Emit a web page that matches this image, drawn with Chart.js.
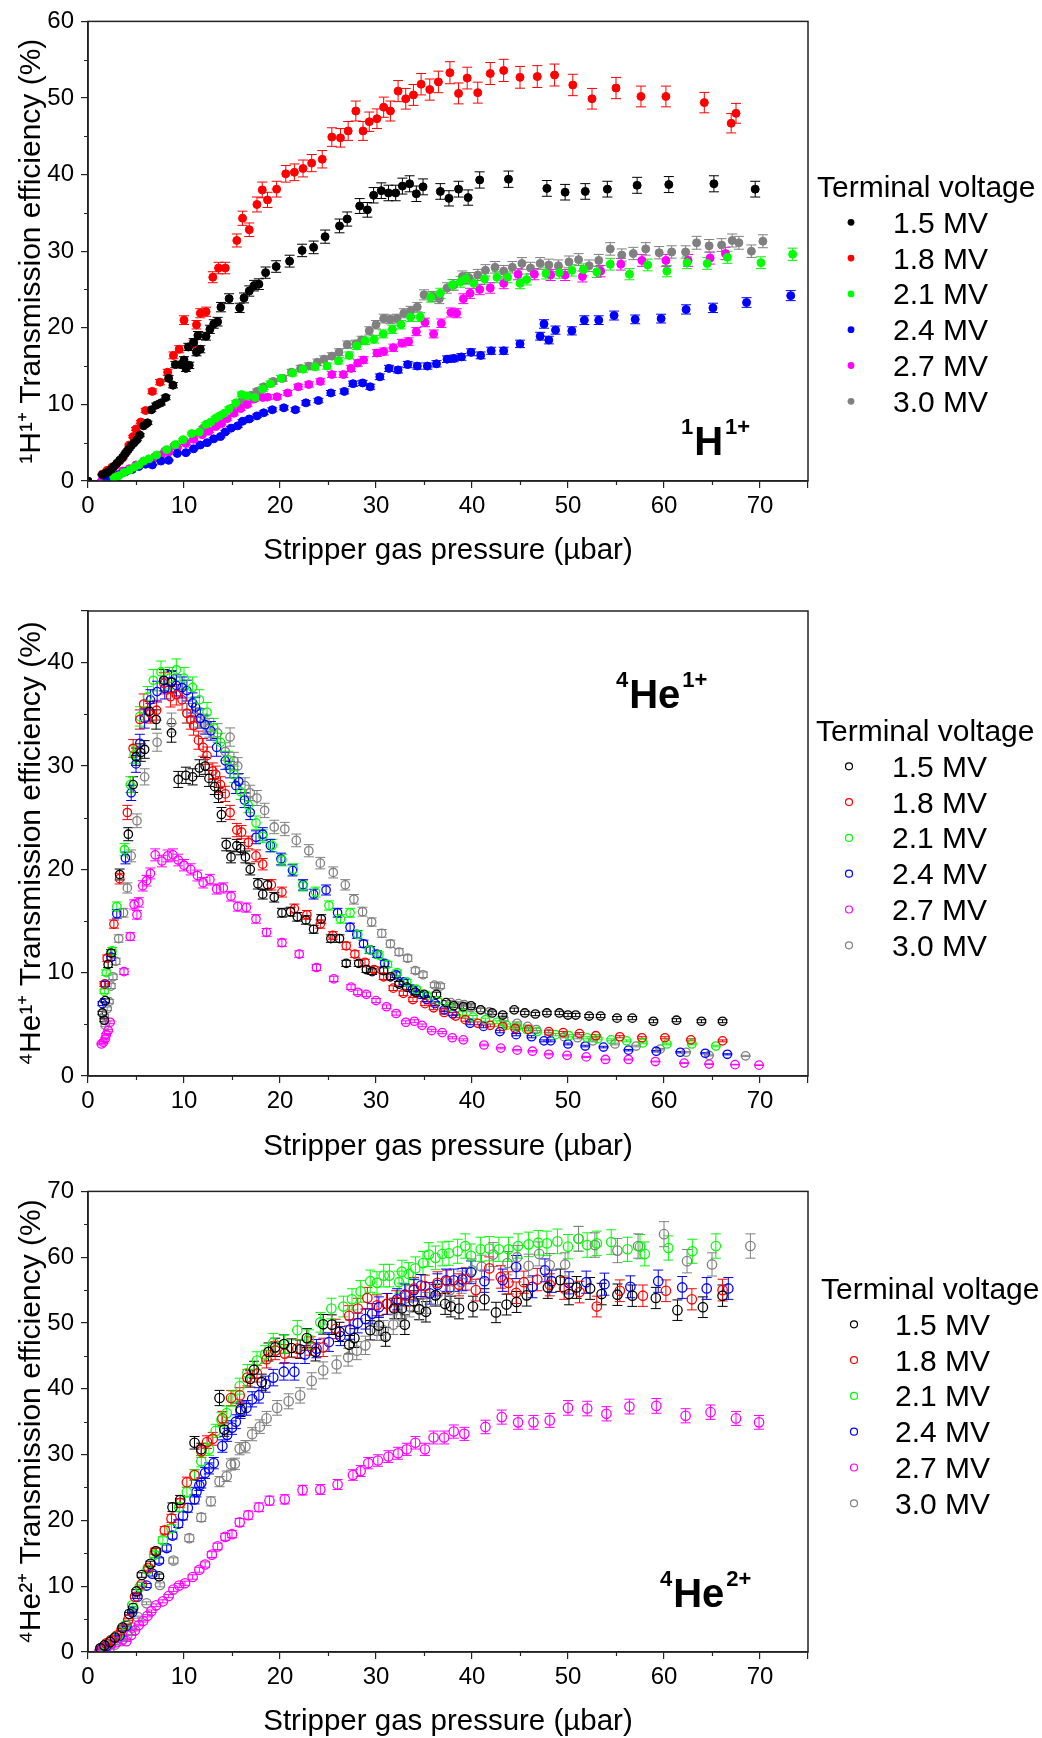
<!DOCTYPE html>
<html>
<head>
<meta charset="utf-8">
<title>Transmission efficiency</title>
<script src="https://cdn.jsdelivr.net/npm/chart.js@4.4.0/dist/chart.umd.min.js"></script>
<style>
  body { margin: 0; background: #ffffff; }
  canvas { position: absolute; left: 0; }
</style>
</head>
<body>
<canvas id="panelH1" width="1042" height="580" style="top:0px"></canvas>
<canvas id="panelHe1" width="1042" height="590" style="top:580px"></canvas>
<canvas id="panelHe2" width="1042" height="568" style="top:1170px"></canvas>
<script>
// Series: [presion (µbar), eficiencia (%)] por voltaje de terminal
var voltajes = ['1.5 MV', '1.8 MV', '2.1 MV', '2.4 MV', '2.7 MV', '3.0 MV'];
var colores = ['#000000', '#ff0000', '#00ff00', '#0000ff', '#ff00ff', '#808080'];
var presionMax = 75;
var eficienciaMax = [60, 45, 70];
var errorRelativo = [0.027, 0.027, 0.03];

// 1H 1+
var h1_15 = [[0,0],[1.5,0.8],[1.8,1.0],[2.1,1.2],[2.4,1.5],[2.7,1.9],[3.0,2.3],[3.3,2.7],[3.6,3.1],[3.9,3.6],[4.2,4.1],[4.5,4.6],[4.8,5.0],[5.1,5.4],[5.4,6.0],[5.8,7.2],[6.2,7.6],[6.6,9.3],[7.1,9.9],[7.6,10.2],[8.1,10.9],[8.4,13.4],[8.85,12.5],[9.1,15.2],[9.65,15.2],[10.0,15.8],[10.2,14.7],[10.45,17.5],[10.55,15.1],[11.0,18.1],[11.3,16.8],[11.45,19.0],[11.7,17.2],[12.3,18.9],[12.7,19.8],[13.1,20.5],[13.5,20.8],[13.85,22.7],[14.7,23.8],[15.8,22.6],[16.25,23.9],[16.8,24.8],[17.3,25.5],[17.8,25.7],[18.5,27.2],[19.6,28.0],[21.0,28.7],[22.3,30.1],[23.5,30.5],[24.7,31.9],[26.2,33.3],[27.0,34.2],[28.3,35.9],[29.1,35.4],[29.75,37.3],[30.55,37.9],[31.3,37.6],[32.05,37.6],[32.75,38.5],[33.5,38.8],[34.2,37.5],[34.9,38.4],[36.7,37.8],[37.6,36.9],[38.6,38.1],[39.6,37.0],[40.8,39.3],[43.8,39.4],[47.8,38.2],[49.7,37.7],[51.8,37.8],[54.1,38.1],[57.2,38.6],[60.5,38.7],[65.2,38.8],[69.5,38.1]];
var h1_18 = [[1.5,0.9],[2.0,1.4],[2.5,1.8],[2.9,2.1],[3.3,2.6],[3.6,3.0],[4.0,3.8],[4.3,4.7],[4.7,5.8],[5.0,6.8],[5.5,7.7],[6.0,9.2],[6.7,11.7],[7.5,12.9],[8.3,14.2],[8.9,16.4],[9.5,17.2],[10.0,21.0],[11.0,17.9],[11.3,20.4],[11.7,21.9],[12.3,22.1],[13.0,26.6],[13.6,27.8],[14.3,27.8],[15.5,31.4],[16.1,34.3],[16.8,32.8],[17.6,36.1],[18.15,38.0],[18.7,36.7],[19.65,38.1],[20.6,40.1],[21.5,40.3],[22.4,40.8],[23.3,41.5],[24.4,42.0],[25.4,44.9],[26.3,44.8],[27.1,45.7],[27.9,48.3],[28.65,45.7],[29.3,46.9],[30.1,47.3],[30.8,48.8],[31.5,48.3],[32.3,50.9],[33.1,49.9],[33.9,50.4],[34.7,51.8],[35.6,51.1],[36.5,52.1],[37.7,53.3],[38.6,50.6],[39.5,52.6],[40.6,50.7],[41.9,53.2],[43.3,53.6],[45.0,52.7],[46.8,52.8],[48.6,53.0],[50.5,51.7],[52.5,49.9],[55.0,51.3],[57.6,50.2],[60.2,50.2],[64.2,49.4],[67.0,46.7],[67.5,48.0]];
var h1_21 = [[2.7,0.5],[3.2,0.7],[3.75,1.1],[4.3,1.4],[4.8,1.8],[5.3,2.1],[5.8,2.6],[6.35,2.9],[7.15,3.4],[8.2,4.1],[9.1,4.75],[9.9,5.4],[10.8,6.2],[11.6,6.4],[12.3,7.4],[12.8,7.7],[13.3,8.2],[13.7,8.5],[14.2,8.85],[14.7,9.4],[15.4,10.2],[16.0,11.3],[16.6,11.1],[17.4,10.9],[18.2,12.0],[19.0,12.7],[20.1,13.4],[21.3,14.1],[22.4,14.6],[23.65,14.9],[24.9,15.0],[26.1,15.7],[27.2,16.4],[28.0,17.65],[28.85,18.3],[29.8,18.5],[30.75,19.2],[31.7,19.8],[32.6,20.4],[33.6,21.4],[34.6,21.4],[35.7,24.0],[36.7,24.5],[37.95,25.6],[38.8,26.0],[39.35,26.4],[40.2,25.8],[41.3,26.4],[42.6,26.6],[43.7,26.6],[45.0,25.8],[45.7,26.3],[47.7,27.1],[49.1,27.2],[50.4,27.5],[51.6,27.6],[53.0,27.3],[54.4,28.3],[56.4,27.0],[58.3,28.2],[60.3,27.4],[62.4,28.5],[64.5,28.4],[66.6,29.2],[70.1,28.5],[73.4,29.6]];
var h1_24 = [[2.0,0.2],[2.5,0.5],[3.2,0.8],[3.9,1.2],[4.6,1.5],[5.3,1.9],[6.0,2.2],[6.7,2.1],[7.6,2.6],[8.4,2.7],[9.3,3.6],[10.2,3.7],[11.0,4.2],[11.7,4.7],[12.4,5.0],[13.1,5.5],[13.8,5.8],[14.3,6.4],[14.9,6.9],[15.6,7.2],[16.1,7.8],[16.8,8.1],[17.6,8.5],[18.3,8.9],[19.2,9.3],[20.4,9.55],[21.6,9.3],[22.7,10.2],[24.0,10.5],[25.3,11.5],[26.7,11.7],[27.6,12.7],[28.6,12.8],[29.4,12.3],[30.4,13.6],[31.35,14.7],[32.3,14.5],[33.3,15.2],[34.3,15.0],[35.35,15.0],[36.3,15.3],[37.4,15.9],[38.1,16.0],[38.9,16.2],[39.9,16.8],[40.9,16.4],[42.0,17.0],[43.3,17.0],[45.0,17.9],[47.1,18.9],[47.5,20.5],[48.0,18.4],[48.7,19.7],[50.4,19.6],[51.7,21.0],[53.2,21.0],[54.8,21.6],[57.0,21.1],[59.7,21.2],[62.3,22.4],[65.1,22.6],[68.6,23.3],[73.2,24.2]];
var h1_27 = [[1.5,0.2],[2.0,0.5],[2.9,0.9],[3.6,1.3],[4.3,1.6],[5.0,2.1],[5.8,2.6],[6.7,2.9],[7.6,3.35],[8.4,3.8],[9.3,4.4],[10.2,4.9],[11.0,5.45],[11.9,6.05],[12.6,6.5],[13.3,7.1],[13.9,7.5],[14.5,8.15],[15.2,8.85],[15.9,9.45],[16.6,10.0],[17.3,10.7],[18.2,10.9],[18.7,10.95],[19.7,11.0],[20.8,11.5],[21.9,12.3],[23.0,12.6],[24.2,13.0],[25.4,13.9],[26.6,13.9],[27.4,14.7],[28.1,15.4],[28.7,15.8],[30.1,16.7],[30.8,16.9],[31.8,17.4],[32.7,18.0],[33.4,18.2],[34.2,19.5],[35.1,20.7],[36.0,19.2],[36.8,20.6],[37.8,22.0],[38.4,21.9],[39.1,23.8],[39.8,24.5],[40.8,25.0],[41.9,25.2],[43.3,25.8],[44.8,27.0],[46.5,27.0],[48.2,26.9],[49.7,26.9],[51.5,26.7],[53.4,27.4],[55.5,28.3],[57.7,28.8],[60.2,28.8],[62.5,28.8],[64.8,29.1],[66.4,29.7]];
var h1_30 = [[2.5,0.4],[3.0,0.7],[3.5,1.0],[4.0,1.3],[5.0,1.9],[6.0,2.5],[7.0,3.2],[8.0,3.9],[9.0,4.6],[10.0,5.3],[11.0,6.0],[12.0,6.9],[13.0,7.7],[14.0,8.6],[15.0,9.5],[16.0,10.4],[17.0,11.2],[17.6,11.7],[18.3,12.3],[19.3,13.0],[20.3,13.4],[21.2,14.2],[22.15,14.7],[23.0,15.0],[23.9,15.5],[24.6,15.9],[25.4,16.3],[26.15,16.8],[27.0,17.8],[27.9,17.9],[28.5,18.4],[29.3,19.6],[30.0,20.4],[30.8,21.2],[31.5,21.1],[32.2,21.2],[32.9,21.9],[33.6,22.2],[34.3,22.7],[35.0,24.3],[35.9,24.1],[36.6,23.8],[37.4,25.2],[38.1,25.6],[39.0,26.7],[39.7,26.5],[40.6,26.9],[41.4,27.5],[42.4,27.9],[43.3,27.4],[44.2,27.9],[45.2,28.4],[46.1,27.8],[47.1,28.4],[48.0,28.2],[49.0,28.1],[50.1,28.6],[51.1,28.9],[52.2,28.1],[53.2,28.8],[54.4,30.3],[55.6,29.5],[56.8,29.7],[58.1,30.3],[59.5,29.8],[60.8,29.9],[62.25,29.9],[63.4,31.1],[64.7,30.7],[66.0,30.8],[67.1,31.4],[67.8,31.1],[69.1,30.0],[70.3,31.3]];

// 4He 1+
var he1_15 = [[1.5,6.1],[1.7,5.4],[1.8,7.3],[2.1,10.8],[2.4,11.9],[3.3,19.5],[4.2,23.4],[4.7,28.2],[5.0,30.9],[5.5,31.3],[5.9,31.6],[6.4,35.3],[7.1,34.5],[7.9,38.3],[8.7,38.1],[8.7,33.2],[9.4,28.7],[10.2,29.1],[10.9,28.95],[11.6,29.8],[12.2,30.0],[12.6,28.8],[13.2,28.0],[13.6,27.2],[13.9,25.3],[14.4,22.4],[14.9,21.2],[15.5,22.3],[15.9,22.0],[16.4,21.2],[16.9,20.0],[17.7,18.6],[18.2,17.6],[18.7,18.5],[19.4,17.3],[20.2,15.8],[21.1,15.9],[21.8,15.4],[22.7,15.1],[23.5,14.2],[24.3,15.2],[25.3,13.3],[26.2,13.3],[26.9,10.9],[28.2,10.9],[29.0,10.3],[29.6,10.1],[30.8,10.2],[31.5,9.6],[32.4,8.9],[33.2,8.6],[34.1,8.1],[35.0,7.9],[36.3,7.9],[37.3,7.1],[38.1,6.8],[39.1,6.7],[39.9,6.8],[40.9,6.4],[42.1,6.1],[43.2,5.9],[44.4,6.4],[45.5,6.1],[46.6,6.0],[47.8,6.1],[49.1,6.1],[50.0,5.9],[50.8,5.9],[52.2,5.8],[53.4,5.8],[55.1,5.6],[56.7,5.6],[58.9,5.3],[61.3,5.4],[63.9,5.3],[66.1,5.3]];
var he1_18 = [[1.7,8.9],[2.0,11.4],[2.7,14.7],[3.3,19.1],[4.1,25.5],[4.7,31.7],[5.4,34.5],[5.8,36.0],[6.5,35.1],[7.15,35.4],[7.9,38.0],[8.6,36.7],[9.2,36.9],[9.8,36.4],[10.3,35.1],[10.7,34.5],[11.0,33.9],[11.5,32.5],[12.0,31.8],[12.4,31.0],[13.0,29.5],[13.3,29.2],[13.8,28.2],[14.3,27.3],[14.8,25.5],[15.5,23.8],[16.0,23.6],[16.7,22.6],[17.5,21.3],[18.2,20.5],[19.1,18.5],[20.2,17.8],[21.5,16.2],[22.8,15.6],[24.2,14.7],[25.5,13.6],[26.9,12.6],[27.8,11.8],[28.85,11.0],[29.8,10.3],[30.8,9.6],[31.8,8.5],[32.85,8.0],[33.85,7.4],[35.1,7.0],[36.0,6.6],[37.1,6.15],[38.3,5.8],[39.3,5.45],[40.6,5.1],[41.9,4.9],[43.2,4.8],[44.5,4.6],[45.9,4.5],[48.0,4.3],[49.5,4.2],[51.2,4.1],[52.9,3.9],[55.4,3.8],[57.7,3.7],[60.1,3.7],[62.8,3.5],[66.1,3.4]];
var he1_21 = [[1.7,8.2],[1.9,10.0],[2.5,12.1],[3.0,16.4],[3.8,21.9],[4.4,28.2],[4.8,31.1],[5.4,34.8],[6.2,36.7],[6.8,38.3],[7.6,39.1],[8.5,38.5],[9.2,39.3],[10.0,38.5],[10.9,37.6],[11.6,36.4],[12.4,35.2],[13.1,33.7],[13.8,32.3],[14.6,30.6],[15.2,29.2],[15.9,27.5],[16.7,26.2],[17.5,24.5],[18.2,23.2],[19.2,22.3],[20.2,20.9],[21.4,20.0],[22.4,18.4],[23.7,17.8],[25.1,16.5],[26.3,15.2],[27.3,15.8],[28.1,13.7],[29.3,12.2],[30.3,11.7],[31.2,10.8],[32.2,10.0],[33.2,9.1],[34.2,8.4],[35.3,7.8],[36.4,7.3],[37.6,6.7],[39.0,6.05],[40.1,5.7],[41.4,5.45],[42.6,5.2],[43.6,4.9],[44.7,4.75],[45.7,4.5],[46.8,4.3],[48.7,4.0],[50.1,3.9],[52.0,3.7],[53.1,3.6],[54.5,3.5],[56.1,3.4],[57.8,3.2],[60.3,3.1],[62.9,3.1],[65.4,2.9]];
var he1_24 = [[1.5,7.0],[1.8,8.9],[2.4,11.5],[3.0,15.7],[3.9,21.1],[4.5,27.4],[5.0,30.2],[5.4,32.2],[5.9,34.6],[6.5,36.4],[7.2,37.2],[8.0,37.5],[8.7,38.2],[9.2,37.8],[9.8,37.6],[10.3,37.3],[10.9,36.1],[11.2,35.7],[11.7,34.6],[12.2,34.0],[12.8,33.4],[13.4,31.8],[14.3,30.5],[14.8,29.65],[15.4,28.1],[15.7,28.5],[16.3,26.7],[16.9,25.5],[17.5,23.1],[18.2,23.4],[19.0,22.3],[20.1,21.0],[21.3,19.9],[22.4,18.5],[23.5,17.6],[24.8,18.0],[26.0,15.8],[27.3,14.4],[28.0,13.7],[28.7,12.8],[29.4,12.2],[30.1,11.8],[30.9,10.9],[32.1,9.8],[32.9,9.1],[33.8,8.4],[34.6,7.9],[35.3,7.4],[36.15,7.0],[37.1,6.4],[38.0,6.0],[39.8,5.1],[41.2,4.8],[42.9,4.3],[44.6,4.0],[46.2,3.8],[47.5,3.4],[48.2,3.4],[50.0,3.1],[51.8,2.9],[53.7,2.8],[56.3,2.5],[59.2,2.4],[61.7,2.3],[64.3,2.2],[66.6,2.1]];
var he1_27 = [[1.4,3.1],[1.6,3.25],[1.8,3.6],[1.9,4.0],[2.1,4.4],[2.3,5.2],[3.75,10.1],[4.4,13.5],[4.8,16.6],[5.1,15.6],[5.3,16.8],[5.7,18.4],[6.1,18.9],[6.5,19.6],[7.0,21.4],[7.7,20.8],[8.3,21.3],[8.85,21.4],[9.4,20.9],[10.0,20.4],[10.7,20.0],[11.4,19.4],[12.0,18.7],[12.7,19.0],[13.4,18.1],[14.1,18.2],[14.9,17.4],[15.6,16.4],[16.5,16.3],[17.5,15.2],[18.6,13.9],[20.2,12.9],[22.0,11.8],[23.8,10.5],[25.6,9.4],[27.4,8.6],[28.1,8.1],[29.0,7.9],[30.0,7.3],[31.1,6.7],[32.1,6.05],[33.1,5.2],[34.0,5.3],[34.8,4.9],[35.8,4.4],[36.9,4.2],[37.95,3.7],[39.1,3.5],[41.25,3.0],[43.0,2.7],[44.7,2.5],[46.3,2.4],[48.0,2.1],[49.9,2.0],[51.9,1.85],[53.9,1.6],[56.3,1.6],[59.1,1.4],[62.1,1.25],[64.7,1.15],[67.4,1.1],[69.9,1.05]];
var he1_30 = [[1.7,5.8],[1.8,4.9],[2.0,6.5],[2.2,7.2],[2.4,8.7],[2.6,9.6],[2.9,11.1],[3.2,13.3],[3.7,15.8],[4.1,18.2],[4.5,21.3],[5.1,24.7],[5.9,28.95],[7.2,32.3],[8.7,34.2],[10.3,35.1],[11.4,34.7],[12.0,34.1],[12.6,33.7],[13.5,33.2],[14.3,31.4],[14.8,32.8],[15.2,30.5],[15.6,30.0],[16.35,28.1],[16.9,27.4],[17.6,26.9],[18.4,25.7],[19.4,24.1],[20.5,23.9],[21.7,22.8],[23.0,21.8],[24.2,20.6],[25.55,19.7],[26.8,18.5],[27.7,17.1],[28.6,15.9],[29.55,14.9],[30.6,13.8],[31.5,12.8],[32.4,12.0],[33.3,11.4],[34.1,10.2],[34.9,9.8],[36.1,8.8],[36.7,8.7],[37.8,7.1],[38.6,7.0],[39.2,6.9],[39.9,6.6],[40.9,6.4],[41.8,6.2],[43.3,5.5],[44.7,5.1],[45.8,4.8],[46.7,4.5],[48.0,4.1],[49.6,3.8],[51.0,3.7],[52.6,3.4],[54.9,3.1],[57.1,2.9],[59.6,2.6],[62.3,2.3],[64.7,2.0],[68.5,1.95]];

// 4He 2+
var he2_15 = [[1.3,0.55],[1.7,1.0],[2.3,1.5],[2.8,2.2],[3.6,3.7],[4.3,5.8],[4.7,6.7],[5.05,9.2],[5.6,11.7],[6.5,13.4],[7.1,15.3],[7.4,11.5],[8.8,22.0],[9.6,23.1],[11.1,31.8],[11.8,30.8],[13.7,38.6],[14.2,33.8],[15.9,36.9],[16.9,41.5],[17.3,42.9],[18.1,41.0],[18.8,45.6],[19.5,46.3],[20.4,46.8],[21.2,46.2],[22.1,46.0],[22.8,47.7],[23.7,45.6],[24.5,49.8],[25.4,49.75],[26.2,48.65],[27.2,46.7],[27.75,47.7],[29.4,48.9],[30.3,49.6],[31.0,47.9],[31.9,52.2],[32.7,52.2],[33.0,49.75],[33.9,53.3],[34.5,52.1],[35.2,51.7],[36.2,54.2],[37.2,52.9],[37.8,52.5],[38.65,52.2],[40.1,52.5],[41.3,53.6],[42.5,51.6],[43.6,52.8],[44.65,53.2],[45.7,54.2],[47.9,55.4],[49.2,56.5],[50.1,54.4],[50.9,55.4],[52.3,55.25],[53.5,54.4],[55.15,54.3],[56.7,54.15],[59.15,53.8],[61.4,51.95],[64.05,52.4],[66.1,54.15]];
var he2_18 = [[1.3,0.55],[1.9,1.3],[2.4,1.8],[3.0,2.5],[3.5,3.4],[4.2,4.9],[4.9,8.4],[5.6,10.3],[6.3,12.8],[7.0,15.3],[8.0,18.5],[8.7,20.3],[9.6,22.65],[10.3,25.8],[11.1,26.9],[11.8,30.5],[12.4,31.9],[13.0,32.4],[14.0,35.5],[14.9,38.6],[15.8,39.0],[16.6,41.7],[17.6,42.3],[18.6,44.5],[19.5,45.8],[20.5,45.35],[21.8,46.1],[23.2,46.5],[24.5,46.3],[25.8,49.1],[27.2,51.1],[28.1,52.2],[29.1,53.8],[30.1,52.7],[31.1,52.9],[32.1,53.3],[33.1,54.15],[33.95,55.25],[35.1,55.6],[36.4,56.1],[37.4,56.35],[38.65,55.8],[39.35,56.7],[40.4,55.0],[41.8,58.3],[43.0,57.0],[43.8,56.1],[44.6,54.6],[45.4,56.2],[46.8,56.6],[48.1,55.8],[49.6,55.25],[51.2,54.7],[53.0,52.5],[55.4,54.9],[57.8,54.15],[60.2,54.9],[62.9,53.6],[66.1,55.0]];
var he2_21 = [[1.3,0.55],[1.85,1.1],[2.4,1.8],[3.1,2.5],[3.9,4.1],[4.6,7.1],[5.4,9.9],[6.2,12.5],[6.9,14.8],[7.8,17.0],[8.7,18.8],[9.5,22.0],[10.3,24.3],[11.1,26.9],[11.8,29.0],[12.6,30.8],[13.3,33.6],[13.9,35.3],[14.45,36.3],[15.1,38.5],[15.8,40.4],[16.6,42.4],[17.6,44.3],[18.45,45.2],[19.3,47.0],[20.5,46.8],[21.8,48.9],[23.0,47.55],[24.2,50.1],[25.35,52.2],[26.6,52.5],[27.5,53.6],[28.4,54.8],[29.4,56.35],[30.1,56.1],[30.8,57.2],[31.4,57.2],[32.4,56.2],[32.7,57.8],[33.4,57.45],[34.1,58.3],[34.9,59.1],[35.5,60.4],[36.2,59.9],[36.9,60.5],[37.6,60.6],[38.5,60.9],[39.3,61.7],[39.9,60.2],[40.9,61.2],[41.8,61.3],[42.8,61.2],[43.8,61.2],[44.8,61.7],[45.9,61.95],[46.9,62.2],[47.8,62.1],[48.9,62.4],[50.0,61.6],[51.1,62.8],[52.0,61.85],[53.0,62.1],[54.5,62.3],[56.2,61.2],[57.5,61.6],[58.0,60.5],[60.45,61.4],[62.95,60.9],[65.4,61.7]];
var he2_24 = [[1.4,0.45],[1.9,0.9],[2.4,1.65],[3.3,2.5],[4.0,4.0],[4.6,6.05],[5.15,8.4],[6.1,10.1],[6.7,11.9],[7.4,13.9],[8.2,15.8],[8.8,17.7],[9.4,19.5],[9.9,20.7],[10.4,21.9],[11.1,23.2],[11.3,24.3],[11.6,25.3],[11.8,25.7],[12.2,27.2],[12.6,27.9],[13.1,28.7],[14.0,31.3],[14.5,33.0],[15.0,34.1],[15.4,35.0],[15.9,36.6],[16.5,37.1],[17.1,38.4],[17.8,39.0],[18.5,40.7],[19.3,41.7],[20.4,42.6],[21.5,42.6],[22.6,45.2],[23.8,46.1],[25.1,47.1],[26.3,48.0],[27.3,49.0],[28.1,50.0],[28.9,50.6],[29.6,51.4],[30.3,52.4],[31.2,52.9],[32.2,53.6],[33.0,54.3],[33.95,55.0],[34.7,55.7],[35.6,54.5],[36.4,55.8],[37.3,56.5],[38.1,56.5],[39.0,56.6],[39.9,57.7],[41.3,56.35],[43.2,56.5],[44.6,58.5],[46.3,55.5],[47.6,58.0],[48.3,56.35],[50.1,56.1],[51.9,56.2],[53.8,55.9],[56.5,55.5],[59.4,56.35],[61.9,55.4],[64.45,55.25],[66.7,55.25]];
var he2_27 = [[1.2,0.1],[1.6,0.45],[2.0,0.8],[2.4,1.2],[3.0,1.5],[3.6,1.9],[4.0,1.65],[4.5,2.6],[4.9,3.3],[5.3,4.1],[5.75,4.7],[6.2,5.5],[6.6,6.2],[7.1,7.1],[7.8,7.7],[8.4,8.5],[8.9,9.5],[9.5,10.1],[10.1,10.45],[10.9,11.4],[11.6,12.5],[12.2,13.3],[12.9,14.8],[13.5,16.05],[14.3,17.5],[15.0,17.9],[15.8,19.7],[16.7,20.8],[17.8,22.0],[18.9,23.0],[20.5,23.2],[22.35,24.6],[24.2,24.7],[26.0,25.45],[27.6,26.9],[28.4,27.5],[29.2,28.7],[30.2,29.1],[31.3,29.7],[32.3,30.2],[33.2,30.8],[34.1,31.8],[35.1,30.8],[36.0,32.6],[37.1,32.6],[38.1,33.5],[39.2,33.15],[41.4,34.2],[43.1,35.7],[44.8,34.9],[46.4,34.9],[48.1,35.2],[50.0,37.1],[52.0,37.0],[54.0,36.2],[56.4,37.3],[59.2,37.4],[62.25,35.9],[64.85,36.45],[67.5,35.5],[69.9,34.9]];
var he2_30 = [[1.2,0.15],[1.75,0.45],[2.3,0.7],[2.8,1.1],[3.5,1.65],[4.1,2.6],[4.6,3.7],[5.2,5.3],[6.1,7.4],[7.5,10.2],[8.9,13.9],[10.55,17.3],[11.8,20.45],[12.8,22.9],[13.7,25.9],[14.45,26.7],[14.9,28.5],[15.3,28.6],[15.8,30.9],[16.4,31.2],[17.1,33.1],[17.9,34.25],[18.6,35.5],[19.7,37.1],[20.9,38.1],[22.1,39.0],[23.3,41.2],[24.5,42.8],[25.9,43.7],[27.1,44.8],[28.0,45.8],[28.9,46.6],[30.1,48.8],[30.8,48.9],[31.8,49.75],[32.6,51.0],[33.5,52.5],[34.5,52.0],[35.3,53.05],[36.4,54.4],[37.7,55.0],[38.9,56.2],[40.0,58.0],[41.0,58.55],[42.2,60.4],[43.7,59.1],[44.7,60.0],[45.9,58.7],[47.0,60.5],[48.1,58.8],[49.7,58.9],[51.1,62.8],[52.8,61.85],[55.15,61.0],[57.3,61.7],[60.0,63.5],[62.4,59.4],[65.0,58.9],[69.0,61.7]];

var fuente = '"Liberation Sans", Arial, Helvetica, sans-serif';
Chart.defaults.font.family = fuente;
Chart.defaults.color = '#000';

function aPuntos(pares) {
    return pares.map(function(p){ return {x: p[0], y: p[1]}; });
}

// Barras de error verticales con tapas, a partir del error relativo del panel
var barrasError = {
    id: 'barrasError',
    beforeDatasetsDraw: function(chart, args, opts) {
        var ctx = chart.ctx, ejeY = chart.scales.y, a = chart.chartArea;
        ctx.save();
        ctx.beginPath();
        ctx.rect(a.left, a.top, a.right - a.left, a.bottom - a.top);
        ctx.clip();
        ctx.lineWidth = 1;
        chart.data.datasets.forEach(function(ds, i){
            var meta = chart.getDatasetMeta(i);
            ctx.strokeStyle = ds.borderColor;
            meta.data.forEach(function(pt, j){
                var v = ds.data[j].y;
                var e = v * opts.frac;
                var y1 = ejeY.getPixelForValue(v + e);
                var y2 = ejeY.getPixelForValue(v - e);
                ctx.beginPath();
                ctx.moveTo(pt.x, y1); ctx.lineTo(pt.x, y2);
                ctx.moveTo(pt.x - opts.tapa, y1); ctx.lineTo(pt.x + opts.tapa, y1);
                ctx.moveTo(pt.x - opts.tapa, y2); ctx.lineTo(pt.x + opts.tapa, y2);
                ctx.stroke();
            });
        });
        ctx.restore();
    }
};

// Marco completo y marcas menores a mitad de cada paso
var marco = {
    id: 'marco',
    afterDraw: function(chart) {
        var ctx = chart.ctx, a = chart.chartArea, sx = chart.scales.x, sy = chart.scales.y;
        ctx.save();
        ctx.strokeStyle = '#222';
        ctx.lineWidth = 1.5;
        ctx.strokeRect(a.left, a.top, a.right - a.left, a.bottom - a.top);
        ctx.lineWidth = 1.2;
        ctx.beginPath();
        for (var i = 0; i < sx.ticks.length - 1; i++) {
            if (sx.ticks[i+1].value - sx.ticks[i].value === 10) {
                var px = Math.round(sx.getPixelForValue(sx.ticks[i].value + 5)) + 0.5;
                ctx.moveTo(px, a.bottom); ctx.lineTo(px, a.bottom + 4);
            }
        }
        for (var k = 0; k < sy.ticks.length - 1; k++) {
            if (sy.ticks[k+1].value - sy.ticks[k].value === 10) {
                var py = Math.round(sy.getPixelForValue(sy.ticks[k].value + 5)) + 0.5;
                ctx.moveTo(a.left - 4, py); ctx.lineTo(a.left, py);
            }
        }
        ctx.stroke();
        ctx.restore();
    }
};

// Leyenda "Terminal voltage" y rótulo del ion
var rotulos = {
    id: 'rotulos',
    afterDraw: function(chart, args, o) {
        var ctx = chart.ctx;
        ctx.save();
        ctx.textBaseline = 'alphabetic';
        ctx.textAlign = 'left';
        ctx.font = '30px ' + fuente;
        ctx.fillStyle = '#000';
        ctx.fillText('Terminal voltage', o.x, o.y);
        chart.data.datasets.forEach(function(ds, i){
            var by = o.y + (i + 1) * o.paso;
            ctx.beginPath();
            ctx.arc(o.mx, by - 10.5, o.r, 0, Math.PI * 2);
            if (o.relleno) {
                ctx.fillStyle = ds.borderColor;
                ctx.fill();
            } else {
                ctx.strokeStyle = ds.borderColor;
                ctx.lineWidth = 1.2;
                ctx.stroke();
            }
            ctx.fillStyle = '#000';
            ctx.fillText(ds.label, o.tx, by);
        });
        var x = o.tagX;
        o.tag.forEach(function(p){
            ctx.font = p[1] ? 'bold 22px ' + fuente : 'bold 40px ' + fuente;
            ctx.fillText(p[0], x, p[1] ? o.tagY - 21 : o.tagY);
            x += ctx.measureText(p[0]).width + (p[1] ? 1 : 2);
        });
        ctx.restore();
    }
};

function crearPanel(idCanvas, series, c) {
    var lienzo = document.getElementById(idCanvas);
    var datasets = series.map(function(serie, i){
        return {
            label: voltajes[i],
            data: aPuntos(serie),
            borderColor: colores[i],
            backgroundColor: c.relleno ? colores[i] : 'rgba(0,0,0,0)',
            pointRadius: c.radio,
            pointHoverRadius: c.radio,
            pointBorderWidth: c.relleno ? 1 : 1.3,
            showLine: false
        };
    });
    var etiqueta = function(v){ return v % 10 === 0 ? v : ''; };
    return new Chart(lienzo, {
        type: 'scatter',
        data: { datasets: datasets },
        options: {
            responsive: false,
            animation: false,
            devicePixelRatio: 1,
            layout: { padding: { top: c.arriba, right: 234, bottom: 0, left: 0 } },
            plugins: {
                legend: { display: false },
                tooltip: { enabled: false },
                barrasError: { frac: c.frac, tapa: 5 },
                rotulos: c.rotulos
            },
            scales: {
                x: {
                    type: 'linear', min: 0, max: presionMax,
                    afterFit: function(s){ s.height = lienzo.height - c.abajo; },
                    border: { color: '#222', width: 1.5 },
                    grid: { drawOnChartArea: false, tickLength: 7, color: '#222', lineWidth: 1.2 },
                    ticks: { stepSize: 10, padding: 4, font: { size: 24 }, color: '#000', callback: etiqueta, maxRotation: 0 },
                    title: { display: true, text: 'Stripper gas pressure (\u00b5bar)', font: { size: 29.5 }, color: '#000',
                             padding: { top: 4, bottom: c.padTitulo } }
                },
                y: {
                    min: 0, max: c.yMax,
                    afterFit: function(s){ s.width = 88; },
                    border: { color: '#222', width: 1.5 },
                    grid: { drawOnChartArea: false, tickLength: 7, color: '#222', lineWidth: 1.2 },
                    ticks: { stepSize: 10, padding: 7, font: { size: 24 }, color: '#000', callback: etiqueta },
                    title: { display: true, text: c.yTitulo, font: { size: 30 }, color: '#000',
                             padding: { top: 14, bottom: 0 } }
                }
            }
        },
        plugins: [barrasError, marco, rotulos]
    });
}

crearPanel('panelH1', [h1_15, h1_18, h1_21, h1_24, h1_27, h1_30], {
    yMax: eficienciaMax[0], frac: errorRelativo[0], relleno: true, radio: 4,
    arriba: 20, abajo: 481, padTitulo: 11,
    yTitulo: '\u00b9H\u00b9\u207a Transmission efficiency (%)',
    rotulos: { x: 817, y: 197, paso: 35.8, mx: 851, tx: 893, r: 3.4, relleno: true,
               tag: [['1', 1], ['H', 0], ['1+', 1]], tagX: 681, tagY: 455 }
});

crearPanel('panelHe1', [he1_15, he1_18, he1_21, he1_24, he1_27, he1_30], {
    yMax: eficienciaMax[1], frac: errorRelativo[1], relleno: false, radio: 4.2,
    arriba: 31, abajo: 496, padTitulo: 5,
    yTitulo: '\u2074He\u00b9\u207a Transmission efficiency (%)',
    rotulos: { x: 816, y: 161, paso: 35.8, mx: 849, tx: 892, r: 3.5, relleno: false,
               tag: [['4', 1], ['He', 0], ['1+', 1]], tagX: 616, tagY: 128 }
});

crearPanel('panelHe2', [he2_15, he2_18, he2_21, he2_24, he2_27, he2_30], {
    yMax: eficienciaMax[2], frac: errorRelativo[2], relleno: false, radio: 4.7,
    arriba: 20, abajo: 482, padTitulo: -2,
    yTitulo: '\u2074He\u00b2\u207a Transmission efficiency (%)',
    rotulos: { x: 821, y: 129, paso: 35.8, mx: 854, tx: 895, r: 3.5, relleno: false,
               tag: [['4', 1], ['He', 0], ['2+', 1]], tagX: 660, tagY: 437 }
});
</script>
</body>
</html>
